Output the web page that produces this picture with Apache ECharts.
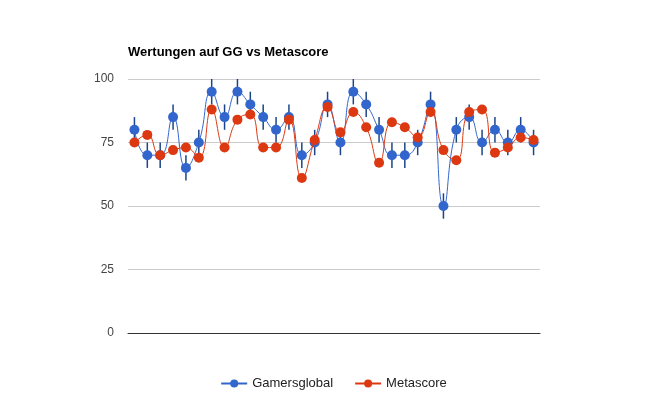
<!DOCTYPE html>
<html>
<head>
<meta charset="utf-8">
<script src="https://cdn.jsdelivr.net/npm/echarts@6/dist/echarts.min.js"></script>
<style>
  html, body { margin: 0; padding: 0; background: #fff; }
  #chart { width: 667px; height: 412px; }
</style>
</head>
<body>
<div id="chart"></div>
<script>
// 32 games, no labels on the x axis
var games = ['1', '2', '3', '4', '5', '6', '7', '8', '9', '10', '11', '12', '13', '14', '15', '16',
  '17', '18', '19', '20', '21', '22', '23', '24', '25', '26', '27', '28', '29', '30', '31', '32']
var gamersglobal = [80, 70, 70, 85, 65, 75, 95, 85, 95, 90, 85, 80, 85, 70, 75, 90,
  75, 95, 90, 80, 70, 70, 75, 90, 50, 80, 85, 75, 80, 75, 80, 75]
var metascore = [75, 78, 70, 72, 73, 69, 88, 73, 84, 86, 73, 73, 84, 61, 76, 89,
  79, 87, 81, 67, 83, 81, 77, 87, 72, 68, 87, 88, 71, 73, 77, 76]
var errorMargin = 5
var yTicks = [0, 25, 50, 75, 100]

var errorData = gamersglobal.map(function (v, i) {
  return [i, v - errorMargin, v + errorMargin]
})

var chart = echarts.init(document.getElementById('chart'))
chart.setOption({
  animation: false,
  textStyle: { fontFamily: 'Liberation Sans, Arial, sans-serif' },
  title: {
    text: 'Wertungen auf GG vs Metascore',
    left: 123,
    top: 41,
    textStyle: { fontSize: 13, fontWeight: 'bold', color: '#000' }
  },
  legend: {
    bottom: 17,
    left: 'center',
    itemWidth: 26,
    itemHeight: 10,
    itemGap: 21,
    textStyle: { fontSize: 13, color: '#222' },
    data: ['Gamersglobal', 'Metascore']
  },
  grid: { left: 128, right: 127, top: 79, bottom: 79 },
  xAxis: {
    type: 'category',
    data: games,
    boundaryGap: true,
    axisTick: { show: false },
    axisLabel: { show: false },
    axisLine: { lineStyle: { color: '#333', width: 1 } }
  },
  yAxis: {
    type: 'value',
    min: yTicks[0],
    max: yTicks[yTicks.length - 1],
    interval: 25,
    axisLine: { show: false },
    axisTick: { show: false },
    axisLabel: { color: '#444', fontSize: 12, margin: 14 },
    splitLine: { lineStyle: { color: '#ccc' } }
  },
  series: [
    {
      name: 'error',
      type: 'custom',
      data: errorData,
      encode: { x: 0, y: [1, 2] },
      z: 2,
      silent: true,
      renderItem: function (params, api) {
        var lo = api.coord([api.value(0), api.value(1)])
        var hi = api.coord([api.value(0), api.value(2)])
        return {
          type: 'line',
          shape: { x1: lo[0], y1: lo[1], x2: hi[0], y2: hi[1] },
          style: { stroke: '#1c4587', lineWidth: 1.5 }
        }
      }
    },
    {
      name: 'Gamersglobal',
      type: 'line',
      data: gamersglobal,
      smooth: 0.5,
      symbol: 'circle',
      symbolSize: 10,
      showSymbol: true,
      showAllSymbol: true,
      color: '#3366cc',
      lineStyle: { width: 1, color: '#3366cc' },
      z: 3
    },
    {
      name: 'Metascore',
      type: 'line',
      data: metascore,
      smooth: 0.5,
      symbol: 'circle',
      symbolSize: 10,
      showSymbol: true,
      showAllSymbol: true,
      color: '#dc3912',
      lineStyle: { width: 1, color: '#dc3912' },
      z: 4
    }
  ]
})
</script>
</body>
</html>
